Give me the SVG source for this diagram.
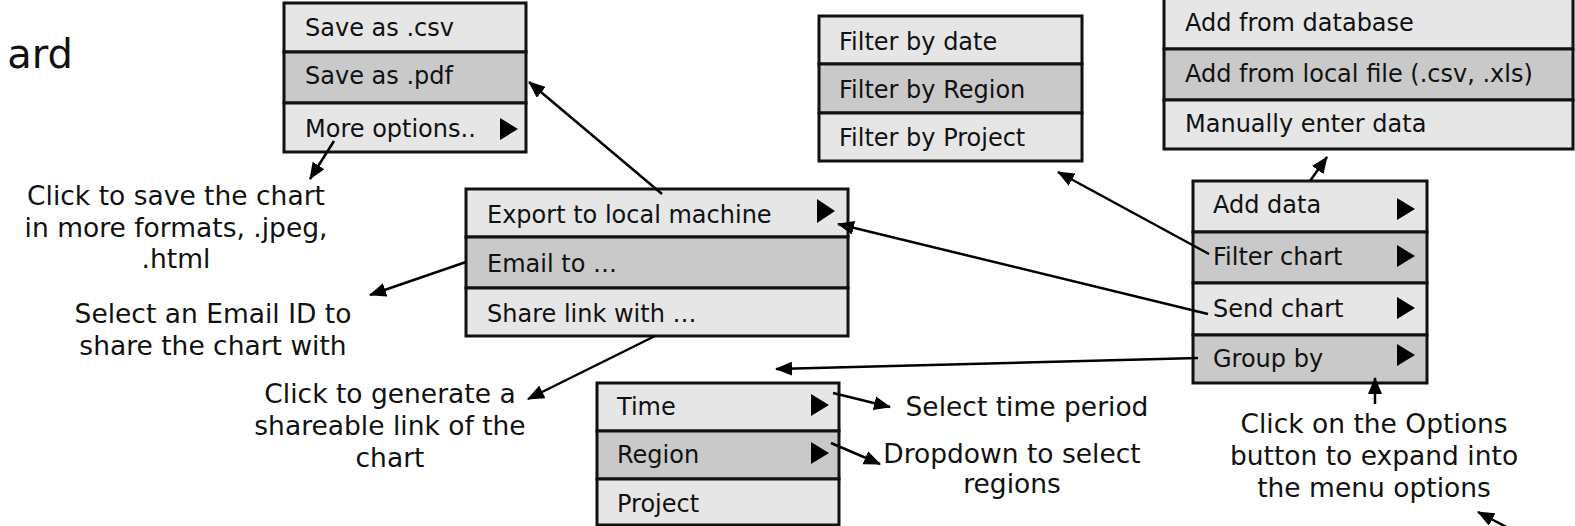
<svg xmlns="http://www.w3.org/2000/svg" width="1575" height="526" viewBox="0 0 1575 526">
  <style>
    .bg { fill: #ffffff; }
    .row-light { fill: #e6e6e6; stroke: #111; stroke-width: 3; }
    .row-dark { fill: #c9c9c9; stroke: #111; stroke-width: 3; }
    .item { font-family: "DejaVu Sans", Verdana, sans-serif; font-size: 24px; fill: #111; }
    .note { font-family: "DejaVu Sans", Verdana, sans-serif; font-size: 26.5px; fill: #111; text-anchor: middle; }
    .title { font-family: "DejaVu Sans", Verdana, sans-serif; font-size: 40px; fill: #111; text-anchor: end; }
    .tri { fill: #000; }
    .link { fill: none; stroke: #000; stroke-width: 2.5; marker-end: url(#head); }
  </style>
  <defs>
    <marker id="head" markerUnits="userSpaceOnUse" markerWidth="18" markerHeight="14" refX="16" refY="7" orient="auto">
      <path d="M0,0 L17,7 L0,14 z" fill="#000"/>
    </marker>
  </defs>

  <rect class="bg" x="0" y="0" width="1575" height="526"/>

  <!-- page heading, clipped at the left edge -->
  <text class="title" x="73" y="68">ard</text>

  <!-- export formats submenu -->
  <g id="menu-save">
    <rect class="row-light" x="284" y="3" width="242" height="49"/>
    <rect class="row-dark" x="284" y="52" width="242" height="51"/>
    <rect class="row-light" x="284" y="103" width="242" height="49"/>
    <text class="item" x="305" y="36">Save as .csv</text>
    <text class="item" x="305" y="84">Save as .pdf</text>
    <text class="item" x="305" y="137">More options..</text>
    <polygon class="tri" points="500,118 518,129 500,140"/>
  </g>

  <!-- send chart submenu -->
  <g id="menu-send">
    <rect class="row-light" x="466" y="189" width="382" height="48"/>
    <rect class="row-dark" x="466" y="237" width="382" height="51"/>
    <rect class="row-light" x="466" y="288" width="382" height="48"/>
    <text class="item" x="487" y="223">Export to local machine</text>
    <text class="item" x="487" y="272">Email to …</text>
    <text class="item" x="487" y="322">Share link with …</text>
    <polygon class="tri" points="817,199 835,211 817,223"/>
  </g>

  <!-- filter submenu -->
  <g id="menu-filter">
    <rect class="row-light" x="819" y="16" width="263" height="48"/>
    <rect class="row-dark" x="819" y="64" width="263" height="49"/>
    <rect class="row-light" x="819" y="113" width="263" height="48"/>
    <text class="item" x="839" y="50">Filter by date</text>
    <text class="item" x="839" y="98">Filter by Region</text>
    <text class="item" x="839" y="146">Filter by Project</text>
  </g>

  <!-- add data submenu -->
  <g id="menu-add">
    <rect class="row-light" x="1164" y="-3" width="409" height="52"/>
    <rect class="row-dark" x="1164" y="49" width="409" height="51"/>
    <rect class="row-light" x="1164" y="100" width="409" height="49"/>
    <text class="item" x="1185" y="31">Add from database</text>
    <text class="item" x="1185" y="82">Add from local file (.csv, .xls)</text>
    <text class="item" x="1185" y="132">Manually enter data</text>
  </g>

  <!-- main options menu -->
  <g id="menu-options">
    <rect class="row-light" x="1193" y="181" width="234" height="51"/>
    <rect class="row-dark" x="1193" y="232" width="234" height="51"/>
    <rect class="row-light" x="1193" y="283" width="234" height="52"/>
    <rect class="row-dark" x="1193" y="335" width="234" height="48"/>
    <text class="item" x="1213" y="213">Add data</text>
    <text class="item" x="1213" y="265">Filter chart</text>
    <text class="item" x="1213" y="317">Send chart</text>
    <text class="item" x="1213" y="367">Group by</text>
    <polygon class="tri" points="1397,198 1415,209 1397,220"/>
    <polygon class="tri" points="1397,245 1415,256 1397,267"/>
    <polygon class="tri" points="1397,297 1415,308 1397,319"/>
    <polygon class="tri" points="1397,344 1415,355 1397,366"/>
  </g>

  <!-- group by submenu -->
  <g id="menu-group">
    <rect class="row-light" x="597" y="383" width="242" height="48"/>
    <rect class="row-dark" x="597" y="431" width="242" height="48"/>
    <rect class="row-light" x="597" y="479" width="242" height="46"/>
    <text class="item" x="617" y="415">Time</text>
    <text class="item" x="617" y="463">Region</text>
    <text class="item" x="617" y="512">Project</text>
    <polygon class="tri" points="811,394 829,405 811,416"/>
    <polygon class="tri" points="811,442 829,453 811,464"/>
  </g>

  <!-- annotations -->
  <g id="note-more">
    <text class="note" x="176" y="205">Click to save the chart</text>
    <text class="note" x="176" y="237">in more formats, .jpeg,</text>
    <text class="note" x="176" y="268">.html</text>
  </g>
  <g id="note-email">
    <text class="note" x="213" y="323">Select an Email ID to</text>
    <text class="note" x="213" y="355">share the chart with</text>
  </g>
  <g id="note-share">
    <text class="note" x="390" y="403">Click to generate a</text>
    <text class="note" x="390" y="435">shareable link of the</text>
    <text class="note" x="390" y="467">chart</text>
  </g>
  <g id="note-time">
    <text class="note" x="1027" y="416">Select time period</text>
  </g>
  <g id="note-region">
    <text class="note" x="1012" y="463">Dropdown to select</text>
    <text class="note" x="1012" y="493">regions</text>
  </g>
  <g id="note-options">
    <text class="note" x="1374" y="433">Click on the Options</text>
    <text class="note" x="1374" y="465">button to expand into</text>
    <text class="note" x="1374" y="497">the menu options</text>
  </g>

  <!-- connectors -->
  <g id="connectors">
    <line class="link" x1="334" y1="141" x2="310" y2="179"/>
    <line class="link" x1="466" y1="262" x2="370" y2="295"/>
    <line class="link" x1="655" y1="336" x2="528" y2="399"/>
    <line class="link" x1="662" y1="194" x2="529" y2="82"/>
    <line class="link" x1="1208" y1="314" x2="838" y2="224"/>
    <line class="link" x1="1209" y1="254" x2="1058" y2="172"/>
    <line class="link" x1="1198" y1="358" x2="776" y2="369"/>
    <line class="link" x1="1310" y1="181" x2="1327" y2="157"/>
    <line class="link" x1="1375" y1="404" x2="1375" y2="378"/>
    <line class="link" x1="833" y1="393" x2="890" y2="407"/>
    <line class="link" x1="831" y1="443" x2="880" y2="464"/>
    <line class="link" x1="1512" y1="530" x2="1478" y2="512"/>
  </g>
</svg>
